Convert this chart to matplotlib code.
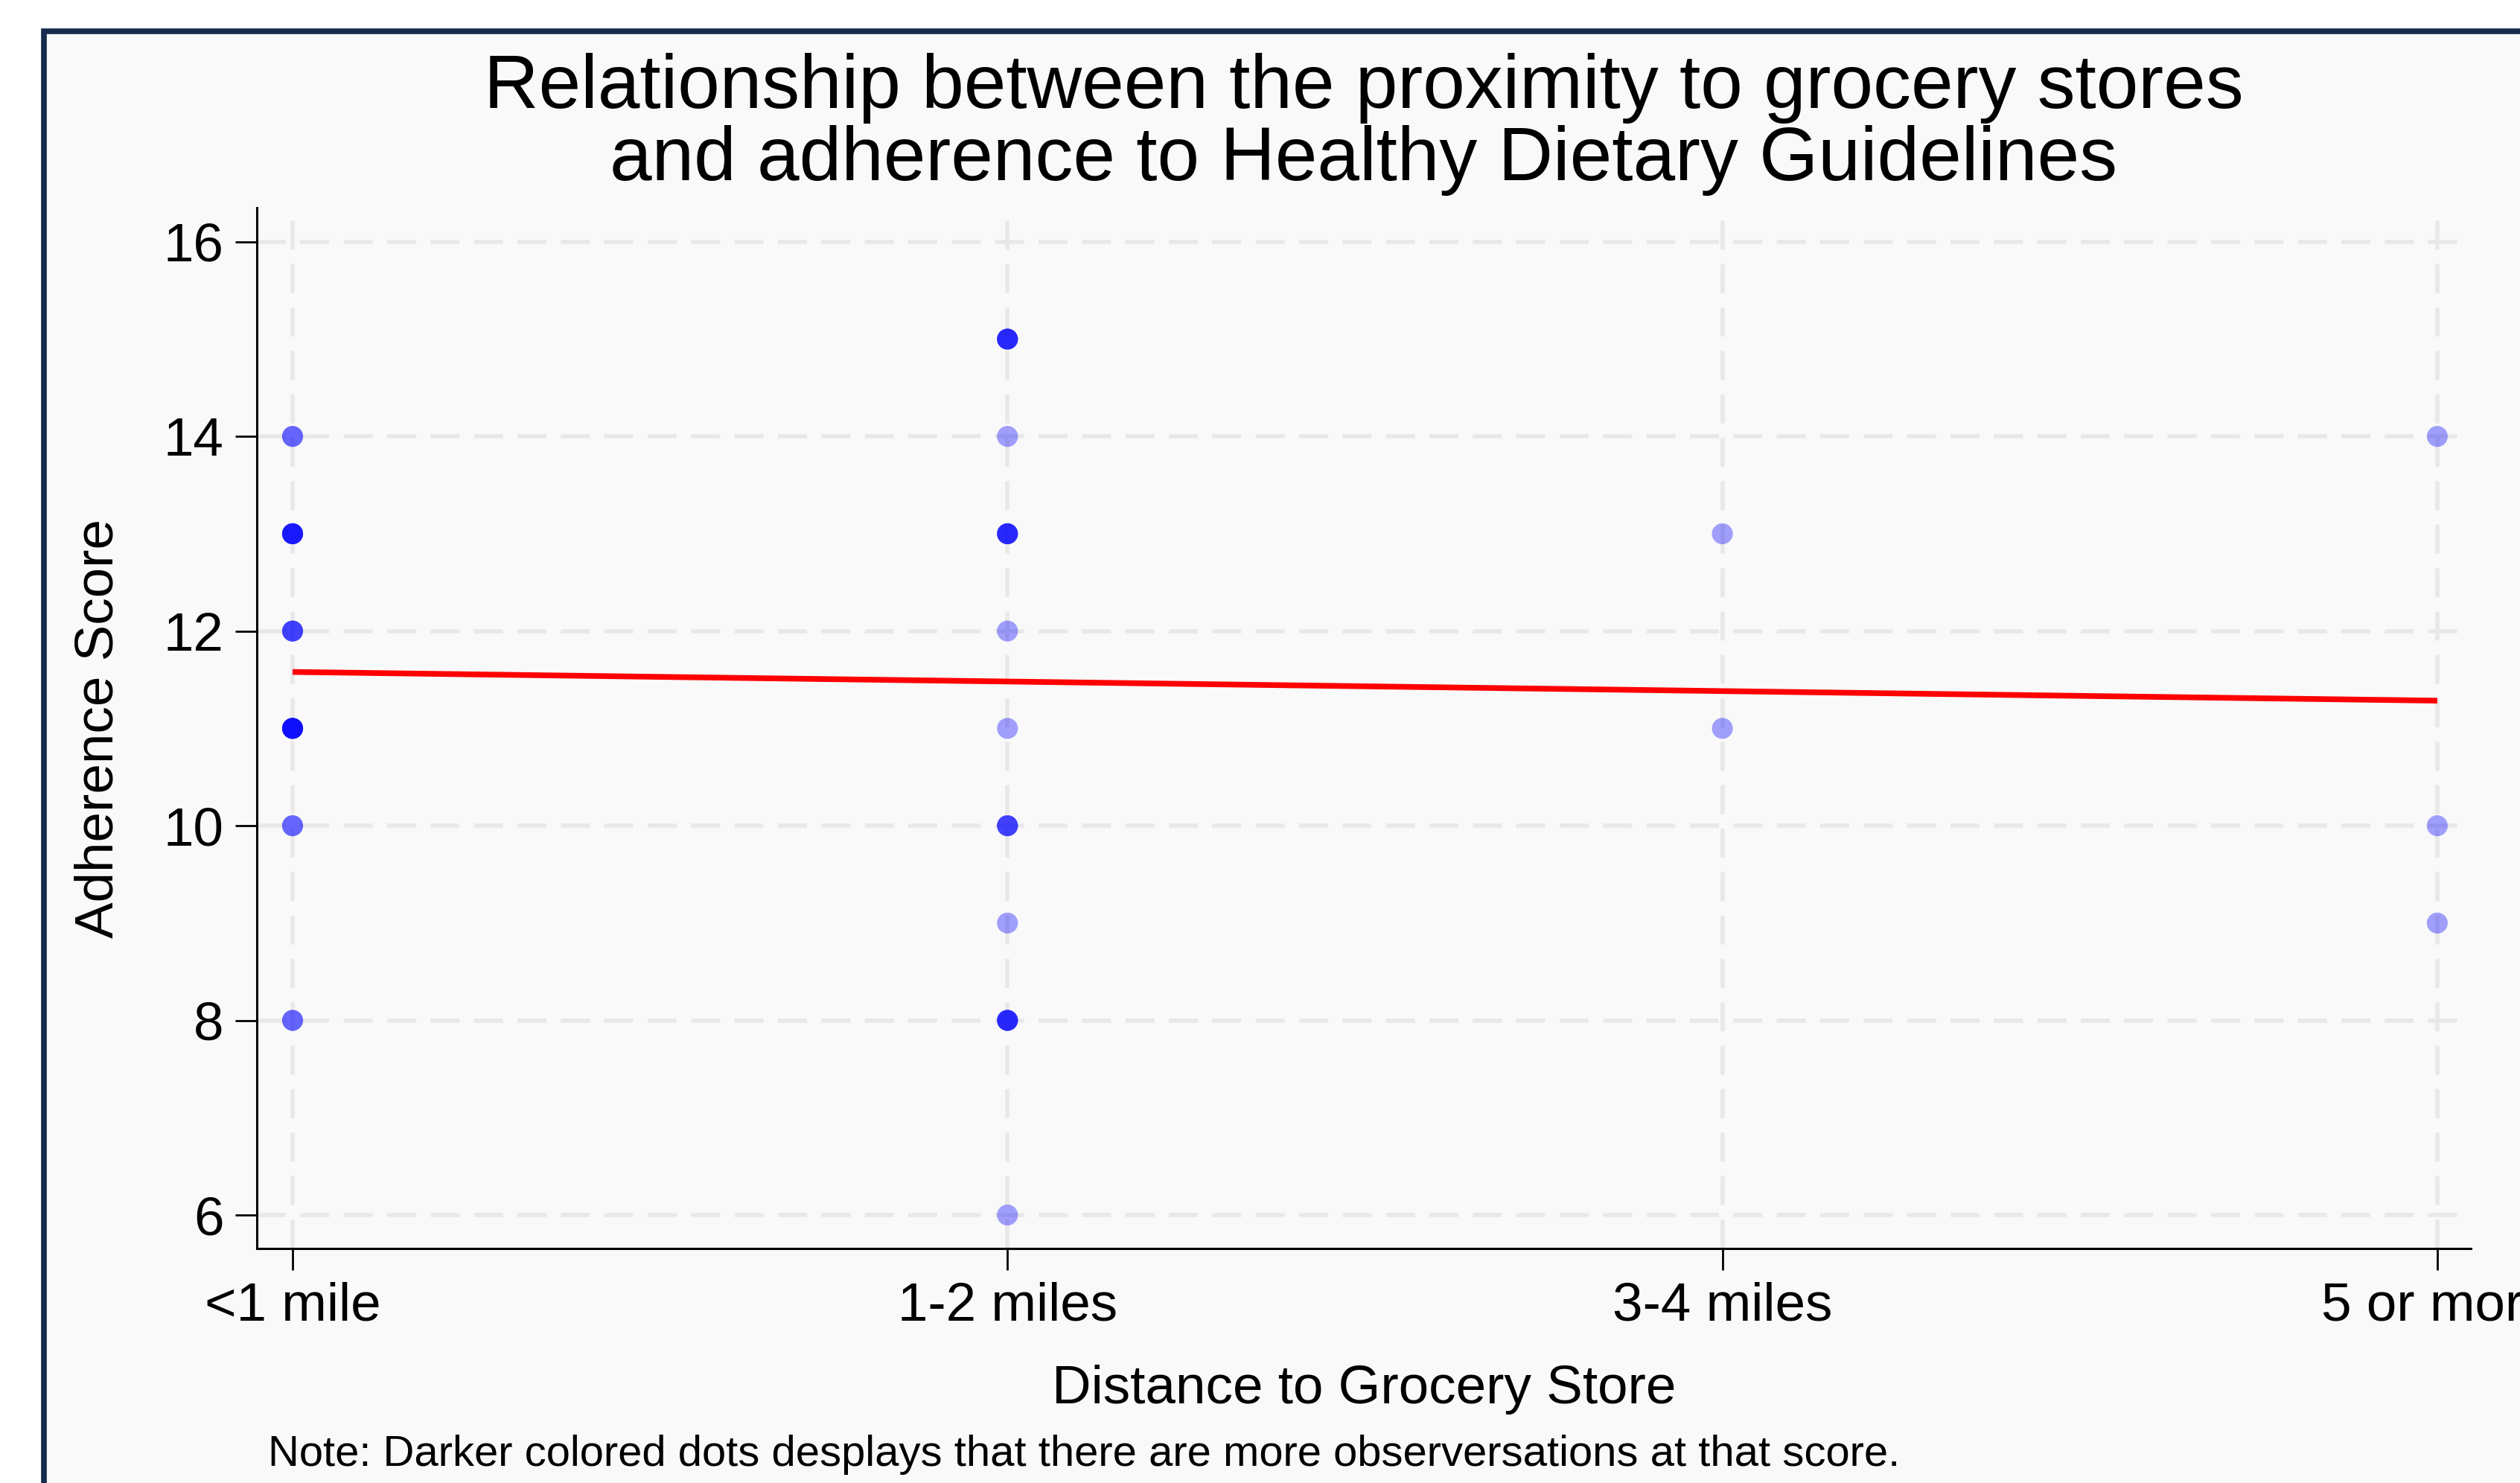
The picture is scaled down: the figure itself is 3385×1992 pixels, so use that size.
import numpy as np
import matplotlib
matplotlib.use("Agg")
import matplotlib.pyplot as plt
from matplotlib.patches import Rectangle

# Distance categories (x positions 1..4)
categories = ["<1 mile", "1-2 miles", "3-4 miles", "5 or more"]

# Scores observed in each category and how many respondents share each score
scores_lt1 = [14, 13, 12, 11, 10, 8]
counts_lt1 = [2, 5, 3, 6, 2, 2]
scores_1_2 = [15, 14, 13, 12, 11, 10, 9, 8, 6]
counts_1_2 = [4, 1, 4, 1, 1, 3, 1, 4, 1]
scores_3_4 = [13, 11]
counts_3_4 = [1, 1]
scores_5p = [14, 10, 9]
counts_5p = [1, 1, 1]

# Linear fit line
fit_x = [1, 4]
fit_y = [11.58, 11.285]

y_ticks = [6, 8, 10, 12, 14, 16]

W, H = 3385, 1992
plt.rcParams["font.family"] = ["Liberation Sans", "DejaVu Sans"]

fig = plt.figure(figsize=(W / 100, H / 100), dpi=100)
fig.patch.set_facecolor("white")

# navy frame around the graph region (runs off right/bottom edges)
frame = Rectangle((59 / W, -0.05), 1.1, 1 - 42 / H + 0.05, transform=fig.transFigure,
                  facecolor="#f9f9f9", edgecolor="#152a4c", linewidth=5.5, zorder=-10)
fig.patches.append(frame)

ax = fig.add_axes([345 / W, 1 - 1677 / H, (3319 - 345) / W, (1677 - 279) / H])
ax.set_facecolor("none")

# one marker per observation so overlaps get darker
groups = [(1, scores_lt1, counts_lt1), (2, scores_1_2, counts_1_2),
          (3, scores_3_4, counts_3_4), (4, scores_5p, counts_5p)]
for xpos, sc, cn in groups:
    ys = np.repeat(sc, cn)
    xs = np.full(len(ys), xpos)
    ax.scatter(xs, ys, s=410, color="blue", alpha=0.36, edgecolor="none",
               zorder=3, clip_on=False)

ax.plot(fit_x, fit_y, color="red", linewidth=5.5, zorder=4, solid_capstyle="butt")

ax.set_xlim(0.95, 4.047)
ax.set_ylim(5.656, 16.35)
ax.set_xticks(range(1, len(categories) + 1))
ax.set_xticklabels(categories)
ax.set_yticks(y_ticks)

ax.grid(True, color="#e8e8e8", linewidth=4.0, linestyle=(0, (7, 3.5)), zorder=1)
ax.set_axisbelow(True)

for side in ["top", "right"]:
    ax.spines[side].set_visible(False)
for side in ["left", "bottom"]:
    ax.spines[side].set_linewidth(2.2)
    ax.spines[side].set_color("black")

ax.tick_params(axis="both", length=21, width=2, color="black",
               labelsize=52.5)
ax.tick_params(axis="x", pad=11)
ax.tick_params(axis="y", pad=11)

ax.set_xlabel("Distance to Grocery Store", fontsize=52.5, labelpad=32)
ax.set_ylabel("Adherence Score", fontsize=52.5, labelpad=38)

cx = (345 + 3319) / 2 / W
fig.text(cx, 1 - 145 / H, "Relationship between the proximity to grocery stores",
         ha="center", va="baseline", fontsize=73.3)
fig.text(cx, 1 - 242 / H, "and adherence to Healthy Dietary Guidelines",
         ha="center", va="baseline", fontsize=73.3)

fig.text(360 / W, 1 - 1969 / H,
         "Note: Darker colored dots desplays that there are more observersations at that score.",
         ha="left", va="baseline", fontsize=41.8)

fig.savefig("out.png", dpi=100, facecolor="white")
